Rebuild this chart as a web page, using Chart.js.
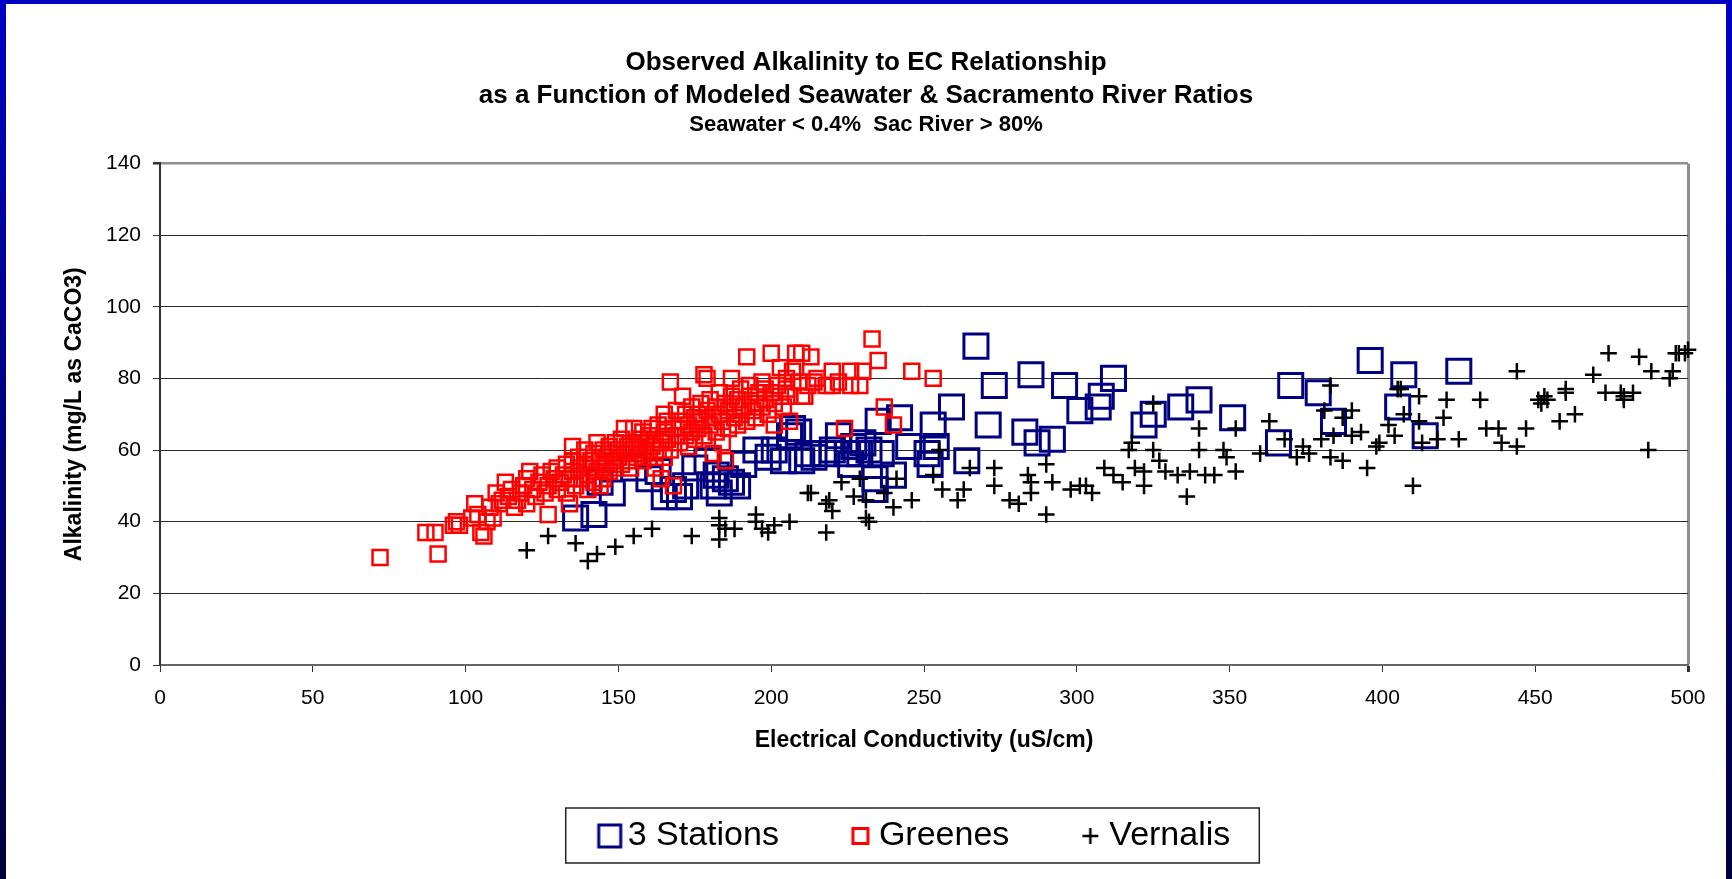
<!DOCTYPE html>
<html>
<head>
<meta charset="utf-8">
<title>Observed Alkalinity to EC Relationship</title>
<script src="https://cdn.jsdelivr.net/npm/chart.js@4.4.1/dist/chart.umd.min.js"></script>
<style>
	html, body { margin: 0; padding: 0; }
	body {
		width: 1732px; height: 879px; overflow: hidden; position: relative;
		background: linear-gradient(to bottom, #0000c4, #00003c);
	}
	#frame { position: absolute; left: 6px; top: 4px; width: 1720px; height: 875px; background: #fff; }
</style>
</head>
<body>
<div id="frame"><canvas id="chart"></canvas></div>
<script>
	// EC (uS/cm), alkalinity (mg/L as CaCO3) pairs
	const stations3 = [
		[136,41],[142,42],[144,51],[148,48],[155,55],[160,52],[163,54],[165,47],[168,49],[170,47],
		[172,50],[175,55],[179,57],[181,50],[182,53],[183,48],[185,52],[187,51],[189,50],[191,56],
		[195,60],[199,58],[201,60],[204,57],[206,64],[207,66],[209,65],[210,57],[212,59],[214,58],
		[217,59],[220,60],[222,64],[225,59],[226,56],[227,61],[229,59],[230,62],[232,60],[234,49],
		[234,52],[235,68],[236,59],[240,53],[242,69],[245,61],[251,59],[252,56],[253,67],[254,61],
		[259,72],[264,57],[267,89],[271,67],[273,78],[283,65],[285,81],[287,62],[292,63],[296,78],
		[301,71],[307,72],[308,75],[312,80],[322,67],[325,70],[334,72],[340,74],[351,69],[366,62],
		[370,78],[379,76],[384,68],[396,85],[405,72],[407,81],[414,64],[425,82]
	];
	const greenes = [
		[72,30],[87,37],[90,37],[91,31],[96,39],[97,40],[98,39],[102,41],[103,45],[104,42],
		[105,37],[106,36],[107,40],[108,44],[109,41],
		[110,48],[111,45],[112,46],[113,51],[114,47],[115,49],[116,44],[117,46],[118,48],[119,50],
		[120,52],[120,45],[121,54],[122,49],[123,47],
		[124,51],[125,53],[126,48],[127,42],[127,50],[128,54],[129,52],[130,49],[130,55],[131,51],
		[132,53],[133,56],[133,48],[134,45],[134,52],[135,61],[135,57],[135,54],
		[136,50],[137,55],[137,58],[138,52],[139,56],[139,60],[140,53],[140,49],[141,57],[141,55],
		[142,59],[142,51],[143,54],[143,62],[144,50],[144,57],[145,55],[145,60],[145,52],
		[146,58],[146,56],[147,54],[147,61],[148,57],[148,59],[149,55],[149,62],[150,58],[150,60],
		[151,56],[151,63],[152,59],[152,66],[153,57],[153,61],[154,60],[154,55],[155,66],[155,62],
		[156,58],[156,61],[157,63],[157,59],[158,57],[158,65],[159,62],[159,60],[160,64],[160,58],
		[161,61],[161,66],[162,63],[162,55],[163,60],[163,67],[164,62],[164,52],[165,65],[165,58],[165,70],
		[166,63],[166,68],[167,60],[167,79],[168,66],[168,50],[169,64],[169,71],[170,62],[170,68],
		[171,75],[171,66],[172,64],[172,70],[173,67],[173,61],[174,72],[174,65],[175,69],[175,63],
		[176,70],[176,66],[177,73],[177,68],[178,81],[178,64],[179,80],[179,71],[180,67],[180,74],
		[181,69],[181,59],[182,72],[182,65],[183,70],[183,76],[184,68],[184,62],[185,57],[185,73],
		[186,71],[186,66],[187,80],[187,75],[188,69],[188,72],[189,74],[189,67],[190,70],[190,77],
		[191,72],[192,86],[192,68],[193,75],[193,78],[194,71],[195,73],[195,69],
		[196,76],[197,79],[197,72],[198,74],[198,77],[199,70],[200,87],[200,76],[201,73],[201,67],
		[202,78],[203,83],[203,75],[204,72],[205,77],[205,80],
		[206,75],[206,68],[207,82],[208,87],[208,83],[209,79],[210,75],[210,87],[211,75],[212,78],
		[213,86],[214,79],[215,80],
		[218,78],[220,82],[220,78],[222,79],[224,66],[226,82],[226,78],[229,78],[230,82],[233,91],
		[235,85],[237,72],[240,67],[246,82],[253,80]
	];
	const vernalis = [
		[120,32],[127,36],[136,34],[140,29],[143,31],[149,33],[155,36],[161,38],[174,36],[183,41],
		[183,39],[183,35],[185,38],[188,38],[195,42],[195,40],[197,38],[199,37],[201,39],[206,40],
		[212,48],[213,48],[218,45],[218,37],[219,46],[220,43],[223,51],[227,47],[229,52],[231,46],
		[231,41],[232,40],[237,48],[240,44],[241,52],[246,46],[253,53],[255,60],[256,49],[261,46],
		[263,49],[265,55],[273,55],[273,50],[278,46],[281,45],[284,53],[285,51],[285,48],[290,56],
		[290,42],[292,51],[298,49],[301,50],[303,50],[305,48],[309,55],[312,53],[315,51],[317,60],
		[318,62],[319,55],[322,54],[322,50],[325,73],[325,60],[327,57],[329,54],[333,53],[336,47],
		[337,54],[340,66],[340,60],[342,53],[345,53],[348,60],[349,58],[352,66],[352,54],[360,59],
		[363,68],[368,63],[372,58],[374,61],[376,59],[380,63],[381,71],[383,78],[383,58],[384,64],
		[387,57],[387,69],[390,71],[390,64],[393,65],[395,55],[398,61],[399,62],[402,67],[404,64],
		[405,77],[406,77],[407,70],[410,50],[412,75],[412,68],[413,62],[418,63],[420,69],[421,74],
		[425,63],[432,74],[434,66],[438,66],[439,62],[444,82],[444,61],[447,66],[451,74],[452,73],
		[453,75],[454,74],[458,68],[460,77],[460,76],[463,70],[469,81],[474,87],[473,76],[478,76],
		[479,74],[479,75],[482,76],[484,86],[487,60],[488,82],[494,80],[495,82],[496,87],[497,87],
		[499,87],[500,88]
	];
	const xTickValues = [0, 50, 100, 150, 200, 250, 300, 350, 400, 450, 500];
	const yTickValues = [0, 20, 40, 60, 80, 100, 120, 140];
	const seriesNames = ['3 Stations', 'Greenes', 'Vernalis'];

	const FONT = "'Liberation Sans', Arial, sans-serif";
	const LEGEND_FONT = 34;
	const LEGEND_BOX = 73;
	const LEGEND_PAD = 10;
	const LEGEND_SHIFT = 18;

	// legend marker drawn at the right edge of a wide icon so it sits close to its text
	function legendIcon(kind, color, size, lineWidth, gap) {
		const c = document.createElement('canvas');
		c.width = LEGEND_BOX + LEGEND_FONT;
		c.height = 40;
		const g = c.getContext('2d');
		const right = c.width - gap, cy = c.height / 2;
		g.strokeStyle = color;
		g.lineWidth = lineWidth;
		g.beginPath();
		if (kind === 'rect') {
			g.rect(right - size, cy - size / 2, size, size);
		} else {
			g.moveTo(right - size, cy);
			g.lineTo(right, cy);
			g.moveTo(right - size / 2, cy - size / 2);
			g.lineTo(right - size / 2, cy + size / 2);
		}
		g.stroke();
		return c;
	}

	const icons = [
		legendIcon('rect', '#000080', 22, 3, 7),
		legendIcon('rect', '#ff0000', 15, 3, 11),
		legendIcon('cross', '#000000', 16, 2.5, 11)
	];

	const legendFrame = {
		id: 'legendFrame',
		afterUpdate(chart) {
			const lg = chart.legend;
			lg.left += LEGEND_SHIFT;
			lg.right += LEGEND_SHIFT;
			// recompute item x positions; keep the tops the legend already set
			const tops = lg.legendHitBoxes.map(b => b.top);
			lg.adjustHitBoxes();
			lg.legendHitBoxes.forEach((b, i) => { b.top = tops[i]; });
		},
		afterDraw(chart) {
			const lg = chart.legend;
			const boxes = lg.legendHitBoxes;
			if (!boxes || !boxes.length) return;
			const first = boxes[0], last = boxes[boxes.length - 1];
			const left = first.left + LEGEND_BOX + LEGEND_FONT / 2 - 7 - 22 - 33;
			const right = last.left + last.width + 29;
			const cy = lg.top + LEGEND_PAD + LEGEND_FONT / 2;
			const ctx = chart.ctx;
			ctx.save();
			ctx.strokeStyle = '#222';
			ctx.lineWidth = 1.5;
			ctx.strokeRect(left, cy - 28, right - left, 55);
			ctx.restore();
		}
	};

	const toPoints = arr => arr.map(p => ({ x: p[0], y: p[1] }));

	new Chart(document.getElementById('chart'), {
		type: 'scatter',
		data: {
			datasets: [{
				label: seriesNames[0],
				data: toPoints(stations3),
				pointStyle: 'rect',
				pointRadius: 17,
				pointHoverRadius: 17,
				pointBorderColor: '#000080',
				pointBackgroundColor: 'transparent',
				pointBorderWidth: 3,
				order: 3,
				clip: false
			}, {
				label: seriesNames[1],
				data: toPoints(greenes),
				pointStyle: 'rect',
				pointRadius: 10.6,
				pointHoverRadius: 10.6,
				pointBorderColor: '#ff0000',
				pointBackgroundColor: 'transparent',
				pointBorderWidth: 2.5,
				order: 2,
				clip: false
			}, {
				label: seriesNames[2],
				data: toPoints(vernalis),
				pointStyle: 'cross',
				pointRadius: 8.3,
				pointHoverRadius: 8.3,
				pointBorderColor: '#000000',
				pointBorderWidth: 2.5,
				order: 1,
				clip: false
			}]
		},
		options: {
			responsive: true,
			maintainAspectRatio: false,
			animation: false,
			events: [],
			layout: { padding: { left: 38, right: 38, top: 0, bottom: 16 } },
			plugins: {
				title: {
					display: true,
					text: ['Observed Alkalinity to EC Relationship', 'as a Function of Modeled Seawater & Sacramento River Ratios'],
					color: '#000',
					font: { family: FONT, size: 26, weight: 'bold', lineHeight: 1.25 },
					padding: { top: 43, bottom: 0 }
				},
				subtitle: {
					display: true,
					text: 'Seawater < 0.4%  Sac River > 80%',
					color: '#000',
					font: { family: FONT, size: 22, weight: 'bold', lineHeight: 1.2 },
					padding: { top: 0, bottom: 25 }
				},
				legend: {
					position: 'bottom',
					labels: {
						usePointStyle: true,
						pointStyleWidth: LEGEND_BOX,
						boxHeight: LEGEND_FONT,
						padding: LEGEND_PAD,
						color: '#000',
						font: { family: FONT, size: LEGEND_FONT },
						generateLabels: chart => chart.data.datasets.map((ds, i) => ({
							text: ds.label,
							pointStyle: icons[i],
							datasetIndex: i,
							hidden: false,
							lineWidth: 0,
							fillStyle: 'transparent',
							strokeStyle: 'transparent',
							fontColor: '#000'
						}))
					}
				},
				tooltip: { enabled: false }
			},
			scales: {
				x: {
					type: 'linear',
					min: 0,
					max: 500,
					afterBuildTicks: s => { s.ticks = xTickValues.map(v => ({ value: v })); },
					afterFit: s => { s.height = 144; },
					ticks: { color: '#000', font: { family: FONT, size: 21 }, padding: 14, maxRotation: 0 },
					grid: {
						color: c => (c.tick && c.tick.value === 500) ? '#8f8f8f' : 'transparent',
						lineWidth: c => (c.tick && c.tick.value === 500) ? 3 : 1,
						tickColor: '#333',
						tickLength: 7
					},
					border: { color: '#666', width: 2 },
					title: {
						display: true,
						text: 'Electrical Conductivity (uS/cm)',
						color: '#000',
						font: { family: FONT, size: 23, weight: 'bold' },
						padding: { top: 15, bottom: 55 }
					}
				},
				y: {
					type: 'linear',
					min: 0,
					max: 140,
					afterBuildTicks: s => { s.ticks = yTickValues.map(v => ({ value: v })); },
					afterFit: s => { s.width = 116; },
					ticks: { color: '#000', font: { family: FONT, size: 21 }, padding: 12 },
					grid: {
						color: c => {
							if (!c.tick) return '#2a2a2a';
							if (c.tick.value === 140) return '#8f8f8f';
							if (c.tick.value === 0) return '#666';
							return '#2a2a2a';
						},
						lineWidth: c => (c.tick && c.tick.value === 140) ? 2.5 : 1,
						tickColor: '#333',
						tickLength: 7
					},
					border: { color: '#333', width: 2 },
					title: {
						display: true,
						text: 'Alkalinity (mg/L as CaCO3)',
						color: '#000',
						font: { family: FONT, size: 23, weight: 'bold' },
						padding: { top: 17, bottom: 0 }
					}
				}
			}
		},
		plugins: [legendFrame]
	});
</script>
</body>
</html>
